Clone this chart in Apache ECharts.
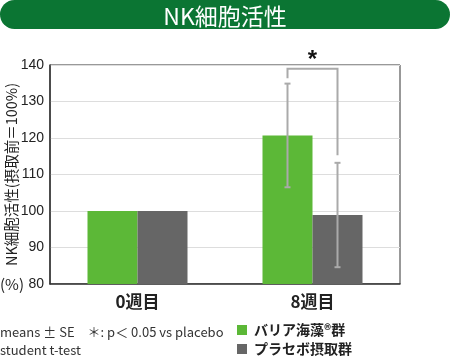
<!DOCTYPE html>
<html><head><meta charset="utf-8">
<script src="https://cdn.jsdelivr.net/npm/echarts@6/dist/echarts.min.js"></script>
<style>html,body{margin:0;padding:0;background:#fff}#c{width:450px;height:356px}</style>
</head><body><div id="c"></div>
<script>
const categories = ['0週目', '8週目'];
const seriesNames = ['バリア海藻®群', 'プラセボ摂取群'];
const barrierValues = [100, 120.7];
const placeboValues = [100, 98.9];
const barrierSE = [0, 14.2];
const placeboSE = [0, 14.3];
const yTicks = [80, 90, 100, 110, 120, 130, 140];
const bracket = { cat: 1, top: 139, leftEnd: 136.4, rightEnd: 115.3, star: 141.2, label: '*' };

const FONT = '"Noto Sans CJK JP", "Noto Sans", sans-serif';
const BAR_W = 50;
const offsets = [-BAR_W / 2, BAR_W / 2];

function errData(vals, se) {
  return vals.map((v, i) => [i, v, se[i]]).filter(d => d[2] > 0);
}
function errRender(k) {
  return function (params, api) {
    const i = api.value(0), v = api.value(1), e = api.value(2);
    const p1 = api.coord([i, v + e]);
    const p2 = api.coord([i, v - e]);
    const x = p1[0] + offsets[k];
    const style = { stroke: '#aaaaaa', lineWidth: 2 };
    return { type: 'group', children: [
      { type: 'line', shape: { x1: x, y1: p1[1], x2: x, y2: p2[1] }, style },
      { type: 'line', shape: { x1: x - 3, y1: p1[1], x2: x + 3, y2: p1[1] }, style },
      { type: 'line', shape: { x1: x - 3, y1: p2[1], x2: x + 3, y2: p2[1] }, style }
    ]};
  };
}
const legendText = { fontSize: 14, fontWeight: 'bold', color: '#222', fontFamily: FONT, padding: [0, 0, 0, 2] };

const chart = echarts.init(document.getElementById('c'));
chart.setOption({
  animation: false,
  textStyle: { fontFamily: FONT },
  grid: { left: 50, right: 50, top: 65, bottom: 72, show: true, borderColor: '#333', borderWidth: 1,
    containLabel: false, outerBoundsMode: 'none' },
  xAxis: {
    type: 'category', data: categories,
    axisLine: { lineStyle: { color: '#333', width: 1.5 } },
    axisTick: { show: false },
    axisLabel: { fontSize: 17, fontWeight: 'bold', color: '#222', margin: 9, fontFamily: FONT }
  },
  yAxis: {
    type: 'value', min: yTicks[0], max: yTicks[yTicks.length - 1], interval: 10,
    name: 'NK細胞活性(摂取前＝100%)', nameLocation: 'middle', nameGap: 31, nameRotate: 90,
    nameMoveOverlap: false,
    nameTextStyle: { fontSize: 14.5, color: '#222', fontFamily: FONT },
    axisLine: { show: true, lineStyle: { color: '#333', width: 1.5 } },
    axisTick: { show: false },
    axisLabel: { fontSize: 14, color: '#222', margin: 6, fontFamily: 'Liberation Sans, sans-serif' },
    splitLine: { lineStyle: { color: '#dddddd', width: 1 } }
  },
  legend: [
    { left: 237, top: 323, padding: 0, itemWidth: 10, itemHeight: 10, icon: 'rect', data: [seriesNames[0]], textStyle: legendText },
    { left: 237, top: 342, padding: 0, itemWidth: 10, itemHeight: 10, icon: 'rect', data: [seriesNames[1]], textStyle: legendText }
  ],
  series: [
    { name: seriesNames[0], type: 'bar', data: barrierValues, barWidth: BAR_W, barGap: '0%',
      itemStyle: { color: '#5cb837' } },
    { name: seriesNames[1], type: 'bar', data: placeboValues, barWidth: BAR_W,
      itemStyle: { color: '#666666' } },
    { type: 'custom', renderItem: errRender(0), data: errData(barrierValues, barrierSE), z: 5, silent: true },
    { type: 'custom', renderItem: errRender(1), data: errData(placeboValues, placeboSE), z: 5, silent: true },
    { type: 'custom', clip: false, z: 6, silent: true,
      data: [[bracket.cat, bracket.top, bracket.leftEnd, bracket.rightEnd, bracket.star]],
      renderItem: function (params, api) {
        const c = api.value(0);
        const top = api.coord([c, api.value(1)]);
        const le = api.coord([c, api.value(2)]);
        const re = api.coord([c, api.value(3)]);
        const st = api.coord([c, api.value(4)]);
        const xl = top[0] + offsets[0], xr = top[0] + offsets[1];
        return { type: 'group', children: [
          { type: 'polyline', shape: { points: [[xl, le[1]], [xl, top[1]], [xr, top[1]], [xr, re[1]]] },
            style: { stroke: '#aaaaaa', lineWidth: 2, fill: null } },
          { type: 'text', style: { text: bracket.label, x: top[0], y: st[1], align: 'center', verticalAlign: 'middle',
            fontSize: 24, fontWeight: 'bold', fill: '#111', fontFamily: 'Liberation Sans, sans-serif' } }
        ]};
      }
    }
  ],
  graphic: [
    { type: 'rect', shape: { x: 0, y: 0, width: 450, height: 29, r: 14.5 }, style: { fill: '#0b7533' } },
    { type: 'text', style: { text: 'NK細胞活性', x: 225, y: 16, align: 'center', verticalAlign: 'middle',
      fontSize: 23, fill: '#fff', fontFamily: FONT } },
    { type: 'text', style: { text: '(%)', x: 0, y: 284, verticalAlign: 'middle', fontSize: 15, fill: '#222', fontFamily: FONT } },
    { type: 'text', style: { text: 'means ± SE　＊: p＜ 0.05 vs placebo', x: 0, y: 332, verticalAlign: 'middle',
      fontSize: 13, fill: '#333', fontFamily: FONT } },
    { type: 'text', style: { text: 'student t-test', x: 0, y: 350, verticalAlign: 'middle',
      fontSize: 13, fill: '#333', fontFamily: FONT } }
  ]
});
</script></body></html>
